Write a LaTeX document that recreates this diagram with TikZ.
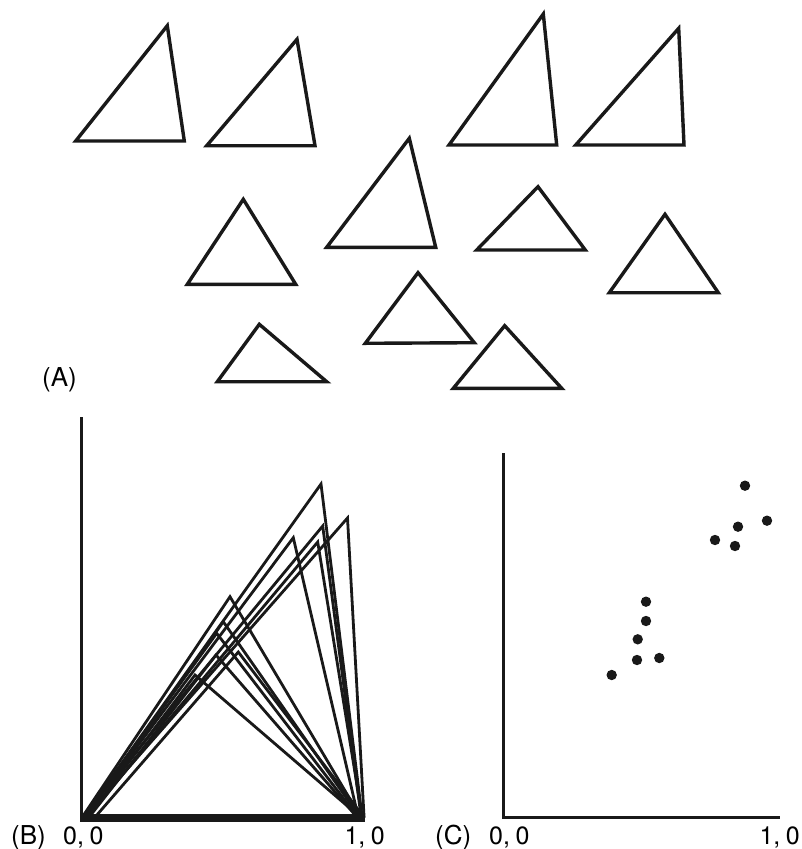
\documentclass[tikz,border=0pt]{standalone}
\usepackage{fontspec}
\setmainfont{TeX Gyre Heros}
\begin{document}
\begin{tikzpicture}[x=1pt,y=-1pt,
  tri/.style={draw=black!90,line width=3.4pt,line join=miter},
  btri/.style={draw=black!90,line width=2.8pt,line join=miter},
  axis/.style={draw=black!90,line width=3.4pt},
  dot/.style={fill=black!90},
  lbl/.style={font=\fontsize{26}{30}\selectfont,inner sep=0pt,anchor=base west},
  num/.style={font=\fontsize{25}{30}\selectfont,inner sep=0pt,anchor=base west}]
\useasboundingbox (0,0) rectangle (802,849);
% Panel A
\draw[tri] (75.7,141) -- (167.3,25.7) -- (184.3,141) -- cycle;
\draw[tri] (206.7,145.7) -- (297,39.3) -- (315,145.7) -- cycle;
\draw[tri] (449,145) -- (543.3,14) -- (556.7,145) -- cycle;
\draw[tri] (575.7,145) -- (678.7,28.3) -- (684,145) -- cycle;
\draw[tri] (187.3,284.3) -- (243.3,199.3) -- (295.7,284.3) -- cycle;
\draw[tri] (326.7,247.3) -- (409.3,138.3) -- (435.7,247.3) -- cycle;
\draw[tri] (217.3,381.7) -- (259.3,324.3) -- (326.7,381.7) -- cycle;
\draw[tri] (365.3,343.3) -- (418,272.7) -- (474.3,342.7) -- cycle;
\draw[tri] (476.7,250) -- (538,186.7) -- (585.3,250) -- cycle;
\draw[tri] (609.3,292.7) -- (665,214.3) -- (718.3,292.7) -- cycle;
\draw[tri] (453.3,388.3) -- (504.7,325.7) -- (561.7,388.3) -- cycle;
\node[lbl] (la) at (42,386) {(A)};
% Panel B
\draw[btri] (84,816) -- (321,484) -- (362,816) -- cycle;
\draw[btri] (86,816) -- (347.5,518) -- (364,816) -- cycle;
\draw[btri] (83,816) -- (322.7,526) -- (361,816) -- cycle;
\draw[btri] (85,816) -- (293.3,537.7) -- (358,816) -- cycle;
\draw[btri] (88,816) -- (317.7,542) -- (362,816) -- cycle;
\draw[btri] (83,816) -- (230,596.7) -- (360,816) -- cycle;
\draw[btri] (86,816) -- (223.3,621.7) -- (359,816) -- cycle;
\draw[btri] (84,816) -- (216.7,633.3) -- (357,816) -- cycle;
\draw[btri] (90,816) -- (216,655) -- (356,816) -- cycle;
\draw[btri] (96,816) -- (238.3,652) -- (363,816) -- cycle;
\draw[btri] (88,816) -- (195,675) -- (359,816) -- cycle;
\draw[axis] (81.7,417) -- (81.7,819);
\draw[draw=black!90,line width=7pt] (80,818.5) -- (365,818.5);
\node[lbl] (lb) at (11,844) {(B)};
\node[num] (b00) at (63,844) {0,\hspace{0.22em}0};
\node[num,anchor=base east] (b10) at (385,844) {1,\hspace{0.22em}0};
% Panel C
\draw[axis] (503.3,453) -- (503.3,817.7) -- (780,817.7);
\foreach \px/\py in {745/485.7,767/520.7,738/526.7,715/540,735/546,646/601.7,646/621,637.7/639.3,637/660,659.3/658,611.7/675}
  \fill[dot] (\px,\py) circle (5.2);
\node[lbl] (lc) at (435,844) {(C)};
\node[num] (c00) at (489,844) {0,\hspace{0.22em}0};
\node[num,anchor=base east] (c10) at (800,844) {1,\hspace{0.22em}0};
\end{tikzpicture}
\end{document}
